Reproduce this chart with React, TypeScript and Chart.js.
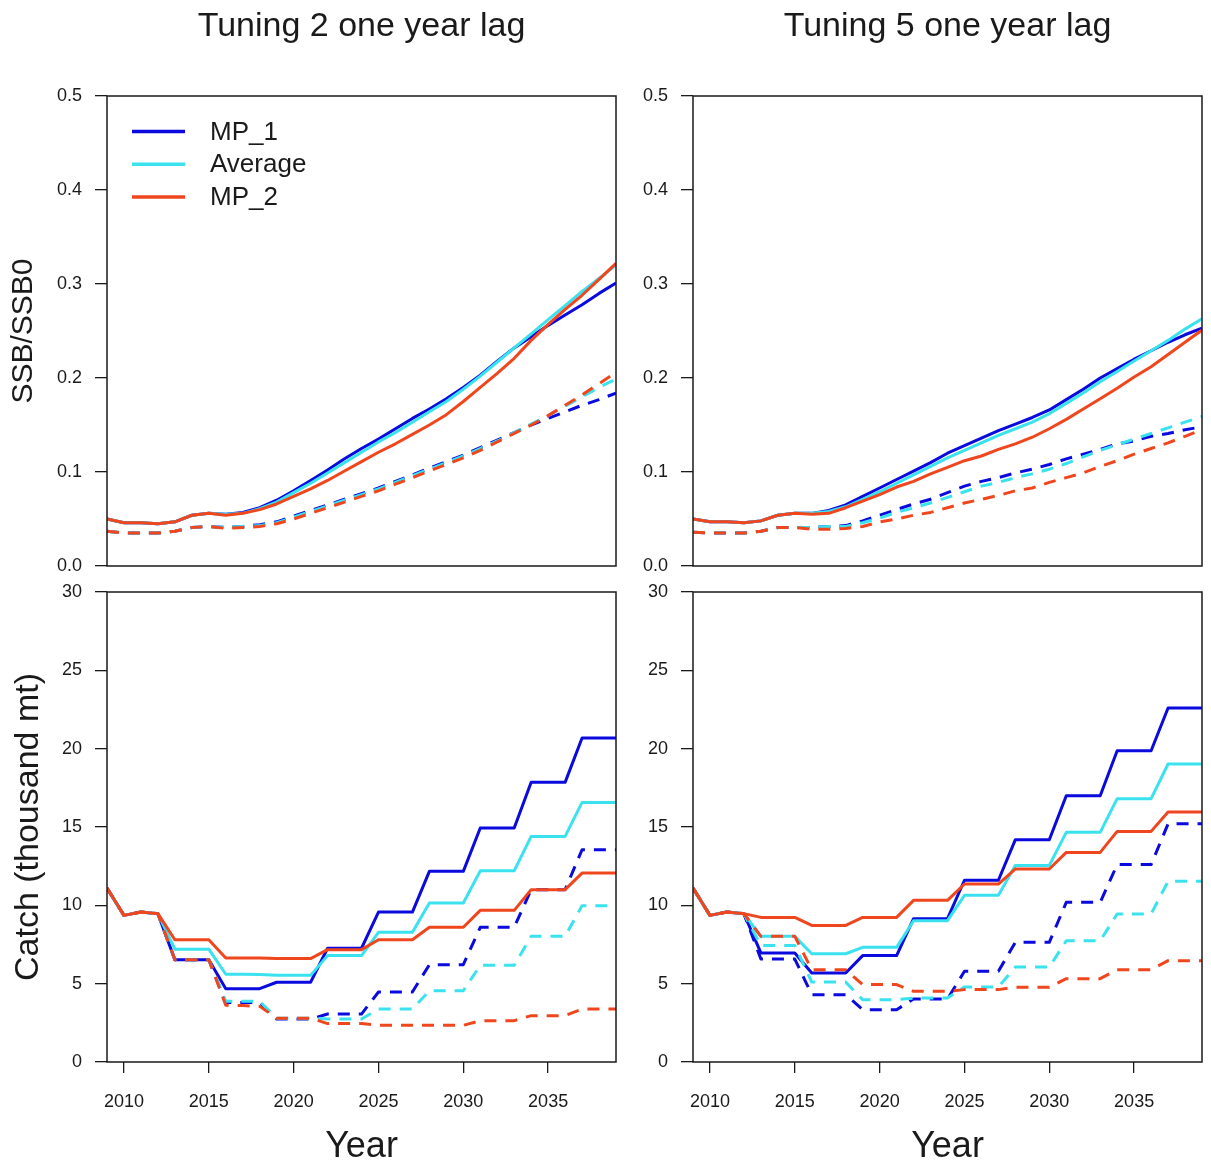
import React, { useEffect, useRef } from "react";
import { Chart, registerables } from "chart.js";

Chart.register(...registerables);

// ---------- axis / label data ----------
const years = [
  2009, 2010, 2011, 2012, 2013, 2014, 2015, 2016, 2017, 2018, 2019, 2020, 2021, 2022, 2023, 2024,
  2025, 2026, 2027, 2028, 2029, 2030, 2031, 2032, 2033, 2034, 2035, 2036, 2037, 2038, 2039,
];
const yearTicks = [2010, 2015, 2020, 2025, 2030, 2035];
const ssbTicks = [0, 0.1, 0.2, 0.3, 0.4, 0.5];
const catchTicks = [0, 5, 10, 15, 20, 25, 30];
const seriesNames = ["MP_1", "Average", "MP_2"];
const seriesColors = ["#0a0ade", "#3ae2f0", "#f0461e"];
const panelTitles = ["Tuning 2 one year lag", "Tuning 5 one year lag"];
const ssbTitle = "SSB/SSB0";
const catchTitle = "Catch (thousand mt)";
const xTitle = "Year";

// ---------- Tuning 2: SSB/SSB0 (solid = median, dashed = lower) ----------
const t2SsbMp1 = [0.050, 0.046, 0.046, 0.045, 0.047, 0.054, 0.056, 0.055, 0.057, 0.062, 0.070, 0.080, 0.091, 0.102, 0.114, 0.125, 0.135, 0.146, 0.157, 0.167, 0.178, 0.190, 0.203, 0.218, 0.232, 0.244, 0.256, 0.267, 0.278, 0.290, 0.301];
const t2SsbAvg = [0.050, 0.046, 0.046, 0.045, 0.047, 0.054, 0.056, 0.055, 0.056, 0.061, 0.068, 0.078, 0.088, 0.099, 0.110, 0.121, 0.132, 0.142, 0.153, 0.164, 0.175, 0.188, 0.202, 0.217, 0.232, 0.247, 0.262, 0.277, 0.292, 0.306, 0.320];
const t2SsbMp2 = [0.050, 0.046, 0.046, 0.045, 0.047, 0.054, 0.056, 0.054, 0.056, 0.060, 0.066, 0.074, 0.082, 0.091, 0.101, 0.111, 0.121, 0.130, 0.140, 0.150, 0.161, 0.175, 0.190, 0.205, 0.221, 0.240, 0.257, 0.273, 0.288, 0.305, 0.322];
const t2SsbMp1Low = [0.037, 0.035, 0.035, 0.035, 0.037, 0.041, 0.042, 0.041, 0.042, 0.044, 0.047, 0.053, 0.059, 0.065, 0.071, 0.077, 0.083, 0.090, 0.097, 0.104, 0.111, 0.118, 0.126, 0.134, 0.142, 0.150, 0.157, 0.164, 0.171, 0.177, 0.184];
const t2SsbAvgLow = [0.037, 0.035, 0.035, 0.035, 0.037, 0.041, 0.042, 0.041, 0.042, 0.043, 0.046, 0.052, 0.058, 0.064, 0.070, 0.076, 0.082, 0.089, 0.096, 0.103, 0.110, 0.117, 0.125, 0.133, 0.142, 0.151, 0.160, 0.170, 0.180, 0.190, 0.199];
const t2SsbMp2Low = [0.037, 0.035, 0.035, 0.035, 0.037, 0.041, 0.042, 0.040, 0.041, 0.042, 0.045, 0.050, 0.056, 0.062, 0.068, 0.074, 0.080, 0.087, 0.094, 0.101, 0.108, 0.115, 0.123, 0.132, 0.141, 0.150, 0.160, 0.171, 0.182, 0.194, 0.206];

// ---------- Tuning 5: SSB/SSB0 ----------
const t5SsbMp1 = [0.050, 0.047, 0.047, 0.046, 0.048, 0.054, 0.056, 0.056, 0.059, 0.065, 0.074, 0.083, 0.092, 0.101, 0.110, 0.120, 0.128, 0.136, 0.144, 0.151, 0.158, 0.166, 0.177, 0.188, 0.200, 0.210, 0.220, 0.229, 0.238, 0.246, 0.253];
const t5SsbAvg = [0.050, 0.047, 0.047, 0.046, 0.048, 0.054, 0.056, 0.056, 0.058, 0.063, 0.071, 0.079, 0.088, 0.097, 0.106, 0.115, 0.123, 0.131, 0.139, 0.146, 0.153, 0.162, 0.173, 0.184, 0.196, 0.207, 0.218, 0.229, 0.240, 0.252, 0.263];
const t5SsbMp2 = [0.050, 0.047, 0.047, 0.046, 0.048, 0.054, 0.056, 0.055, 0.056, 0.062, 0.069, 0.076, 0.084, 0.090, 0.098, 0.105, 0.112, 0.117, 0.124, 0.130, 0.137, 0.146, 0.156, 0.167, 0.178, 0.189, 0.201, 0.212, 0.225, 0.238, 0.251];
const t5SsbMp1Low = [0.036, 0.035, 0.035, 0.035, 0.037, 0.041, 0.041, 0.041, 0.042, 0.043, 0.048, 0.054, 0.060, 0.066, 0.071, 0.078, 0.085, 0.090, 0.094, 0.099, 0.103, 0.108, 0.114, 0.119, 0.124, 0.130, 0.133, 0.138, 0.141, 0.145, 0.148];
const t5SsbAvgLow = [0.036, 0.035, 0.035, 0.035, 0.037, 0.041, 0.041, 0.041, 0.042, 0.042, 0.046, 0.051, 0.057, 0.062, 0.067, 0.073, 0.079, 0.085, 0.089, 0.094, 0.098, 0.103, 0.109, 0.116, 0.123, 0.129, 0.135, 0.141, 0.147, 0.153, 0.159];
const t5SsbMp2Low = [0.036, 0.035, 0.035, 0.035, 0.037, 0.041, 0.041, 0.039, 0.039, 0.040, 0.042, 0.047, 0.050, 0.054, 0.057, 0.062, 0.067, 0.071, 0.075, 0.080, 0.083, 0.089, 0.094, 0.099, 0.106, 0.112, 0.119, 0.125, 0.131, 0.138, 0.145];

// ---------- Tuning 2: Catch (thousand mt) ----------
const t2CatchMp1 = [11.1, 9.36, 9.57, 9.47, 6.53, 6.53, 6.53, 4.68, 4.68, 4.68, 5.09, 5.09, 5.09, 7.26, 7.26, 7.26, 9.57, 9.57, 9.57, 12.17, 12.17, 12.17, 14.94, 14.94, 14.94, 17.85, 17.85, 17.85, 20.68, 20.68, 20.68];
const t2CatchAvg = [11.1, 9.36, 9.57, 9.47, 7.2, 7.2, 7.2, 5.6, 5.6, 5.58, 5.53, 5.53, 5.53, 6.79, 6.79, 6.79, 8.28, 8.28, 8.28, 10.15, 10.15, 10.15, 12.2, 12.2, 12.2, 14.4, 14.4, 14.4, 16.57, 16.57, 16.57];
const t2CatchMp2 = [11.1, 9.36, 9.57, 9.47, 7.8, 7.8, 7.8, 6.64, 6.64, 6.64, 6.6, 6.6, 6.6, 7.17, 7.17, 7.17, 7.8, 7.8, 7.8, 8.6, 8.6, 8.6, 9.68, 9.68, 9.68, 11.0, 11.0, 11.0, 12.06, 12.06, 12.06];
const t2CatchMp1Low = [11.1, 9.36, 9.57, 9.47, 6.53, 6.53, 6.53, 3.8, 3.8, 3.8, 2.74, 2.74, 2.74, 3.06, 3.06, 3.06, 4.47, 4.47, 4.47, 6.21, 6.21, 6.21, 8.6, 8.6, 8.6, 11.0, 11.0, 11.0, 13.55, 13.55, 13.55];
const t2CatchAvgLow = [11.1, 9.36, 9.57, 9.47, 6.53, 6.53, 6.53, 3.87, 3.87, 3.87, 2.8, 2.8, 2.8, 2.74, 2.74, 2.74, 3.38, 3.38, 3.38, 4.55, 4.55, 4.55, 6.17, 6.17, 6.17, 8.02, 8.02, 8.02, 9.98, 9.98, 9.98];
const t2CatchMp2Low = [11.1, 9.36, 9.57, 9.47, 6.53, 6.53, 6.53, 3.62, 3.6, 3.55, 2.8, 2.8, 2.8, 2.45, 2.45, 2.45, 2.34, 2.34, 2.34, 2.34, 2.34, 2.34, 2.64, 2.64, 2.64, 2.96, 2.96, 2.96, 3.38, 3.38, 3.38];

// ---------- Tuning 5: Catch (thousand mt) ----------
const t5CatchMp1 = [11.1, 9.36, 9.57, 9.47, 6.96, 6.96, 6.96, 5.68, 5.68, 5.68, 6.79, 6.79, 6.79, 9.15, 9.15, 9.15, 11.6, 11.6, 11.6, 14.19, 14.19, 14.19, 17.0, 17.0, 17.0, 19.87, 19.87, 19.87, 22.6, 22.6, 22.6];
const t5CatchAvg = [11.1, 9.36, 9.57, 9.47, 8.02, 8.02, 8.02, 6.91, 6.91, 6.91, 7.32, 7.32, 7.32, 9.02, 9.02, 9.02, 10.64, 10.64, 10.64, 12.55, 12.55, 12.55, 14.66, 14.66, 14.66, 16.81, 16.81, 16.81, 19.02, 19.02, 19.02];
const t5CatchMp2 = [11.1, 9.36, 9.57, 9.47, 9.23, 9.23, 9.23, 8.72, 8.72, 8.72, 9.23, 9.23, 9.23, 10.32, 10.32, 10.32, 11.36, 11.36, 11.36, 12.32, 12.32, 12.32, 13.38, 13.38, 13.38, 14.72, 14.72, 14.72, 15.96, 15.96, 15.96];
const t5CatchMp1Low = [11.1, 9.36, 9.57, 9.47, 6.57, 6.57, 6.57, 4.3, 4.3, 4.3, 3.34, 3.34, 3.34, 4.02, 4.02, 4.02, 5.79, 5.79, 5.79, 7.64, 7.64, 7.64, 10.19, 10.19, 10.19, 12.6, 12.6, 12.6, 15.2, 15.2, 15.2];
const t5CatchAvgLow = [11.1, 9.36, 9.57, 9.47, 7.43, 7.43, 7.43, 5.1, 5.1, 5.1, 3.98, 3.98, 3.98, 4.08, 4.08, 4.08, 4.79, 4.79, 4.79, 6.06, 6.06, 6.06, 7.74, 7.74, 7.74, 9.45, 9.45, 9.45, 11.53, 11.53, 11.53];
const t5CatchMp2Low = [11.1, 9.36, 9.57, 9.47, 8.02, 8.02, 8.02, 5.89, 5.89, 5.89, 4.94, 4.94, 4.94, 4.51, 4.51, 4.51, 4.62, 4.62, 4.62, 4.77, 4.77, 4.77, 5.32, 5.32, 5.32, 5.89, 5.89, 5.89, 6.47, 6.47, 6.47];

// ---------- styling ----------
const FONT = "'Liberation Sans', Arial, Helvetica, sans-serif";
const INK = "#1a1a1a";

const framePlugin = {
  id: "panelFrame",
  afterDatasetsDraw(chart: any) {
    const { ctx, chartArea: a } = chart;
    ctx.save();
    ctx.strokeStyle = INK;
    ctx.lineWidth = 1.5;
    ctx.strokeRect(a.left, a.top, a.right - a.left, a.bottom - a.top);
    ctx.restore();
  },
};

const insetLegendPlugin = {
  id: "insetLegend",
  afterDatasetsDraw(chart: any, _args: any, opts: any) {
    if (!opts || !opts.show) return;
    const { ctx, chartArea: a } = chart;
    ctx.save();
    ctx.font = `26px ${FONT}`;
    ctx.textBaseline = "middle";
    ctx.textAlign = "left";
    seriesNames.forEach((name, i) => {
      const y = a.top + 35.5 + i * 32.8;
      ctx.strokeStyle = seriesColors[i];
      ctx.lineWidth = 3.5;
      ctx.beginPath();
      ctx.moveTo(a.left + 25, y);
      ctx.lineTo(a.left + 78, y);
      ctx.stroke();
      ctx.fillStyle = INK;
      ctx.fillText(name, a.left + 103, y + 1);
    });
    ctx.restore();
  },
};

type PanelSpec = {
  key: string;
  left: number;
  top: number;
  width: number;
  height: number;
  pad: { left: number; right: number; top: number; bottom: number };
  axisWidth: number;
  solid: number[][];
  dashed: number[][];
  yTicks: number[];
  yDecimals: number;
  yTitle?: string;
  yTitleSize?: number;
  yTitlePad?: number;
  title?: string;
  showX: boolean;
  legend: boolean;
};

const toPoints = (vals: number[]) => years.map((yr, k) => ({ x: yr, y: vals[k] }));

function buildConfig(spec: PanelSpec): any {
  const layers: any[] = [];
  for (let i = 0; i < 3; i++) {
    layers.push({
      label: seriesNames[i],
      data: toPoints(spec.solid[i]),
      borderColor: seriesColors[i],
      backgroundColor: seriesColors[i],
      borderWidth: 3,
      pointRadius: 0,
      tension: 0,
      borderJoinStyle: "round",
    });
    layers.push({
      label: seriesNames[i] + " (lower)",
      data: toPoints(spec.dashed[i]),
      borderColor: seriesColors[i],
      backgroundColor: seriesColors[i],
      borderWidth: 3,
      borderDash: [12, 9],
      pointRadius: 0,
      tension: 0,
      borderJoinStyle: "round",
    });
  }
  // Chart.js draws the first dataset on top: reverse so MP_2 ends up topmost
  const datasets = layers.reverse();
  const tickFont = { family: FONT, size: 18 };
  const grid = (len: number) => ({
    drawOnChartArea: false,
    drawTicks: true,
    tickLength: len,
    color: INK,
    lineWidth: 1.3,
  });

  return {
    type: "line",
    data: { datasets },
    options: {
      animation: false,
      responsive: false,
      devicePixelRatio: 1,
      events: [],
      layout: { padding: spec.pad },
      plugins: {
        legend: { display: false },
        tooltip: { enabled: false },
        title: spec.title
          ? {
              display: true,
              text: spec.title,
              fullSize: false,
              color: INK,
              font: { family: FONT, size: 34, weight: "normal", lineHeight: 1.2 },
              padding: { top: 6.6, bottom: 48.6 },
            }
          : { display: false },
        insetLegend: { show: spec.legend },
      },
      scales: {
        x: {
          type: "linear",
          min: years[0],
          max: years[years.length - 1],
          display: spec.showX,
          afterBuildTicks: (s: any) => {
            s.ticks = yearTicks.map((v) => ({ value: v }));
          },
          afterFit: (s: any) => {
            s.height = spec.showX ? 105 : 0;
          },
          ticks: {
            callback: (v: any) => String(v),
            font: tickFont,
            color: INK,
            padding: 18,
            maxRotation: 0,
            autoSkip: false,
          },
          grid: grid(11),
          border: { display: false },
          title: {
            display: true,
            text: xTitle,
            color: INK,
            font: { family: FONT, size: 36, lineHeight: 1.1 },
            padding: { top: 0, bottom: 0 },
          },
        },
        y: {
          type: "linear",
          min: spec.yTicks[0],
          max: spec.yTicks[spec.yTicks.length - 1],
          afterBuildTicks: (s: any) => {
            s.ticks = spec.yTicks.map((v) => ({ value: v }));
          },
          afterFit: (s: any) => {
            s.width = spec.axisWidth;
          },
          ticks: {
            callback: (v: any) => Number(v).toFixed(spec.yDecimals),
            font: tickFont,
            color: INK,
            padding: 13,
            autoSkip: false,
          },
          grid: grid(12),
          border: { display: false },
          title: spec.yTitle
            ? {
                display: true,
                text: spec.yTitle,
                color: INK,
                font: { family: FONT, size: spec.yTitleSize, lineHeight: 1.2 },
                padding: { top: spec.yTitlePad, bottom: 0 },
              }
            : { display: false },
        },
      },
    },
    plugins: [framePlugin, insetLegendPlugin],
  };
}

const panels: PanelSpec[] = [
  {
    key: "t2-ssb",
    left: 0,
    top: 0,
    width: 630,
    height: 590,
    pad: { left: 0, right: 14, top: 0, bottom: 24 },
    axisWidth: 107,
    solid: [t2SsbMp1, t2SsbAvg, t2SsbMp2],
    dashed: [t2SsbMp1Low, t2SsbAvgLow, t2SsbMp2Low],
    yTicks: ssbTicks,
    yDecimals: 1,
    yTitle: ssbTitle,
    yTitleSize: 30,
    yTitlePad: 6,
    title: panelTitles[0],
    showX: false,
    legend: true,
  },
  {
    key: "t5-ssb",
    left: 630,
    top: 0,
    width: 581,
    height: 590,
    pad: { left: 0, right: 9, top: 0, bottom: 24 },
    axisWidth: 63,
    solid: [t5SsbMp1, t5SsbAvg, t5SsbMp2],
    dashed: [t5SsbMp1Low, t5SsbAvgLow, t5SsbMp2Low],
    yTicks: ssbTicks,
    yDecimals: 1,
    title: panelTitles[1],
    showX: false,
    legend: false,
  },
  {
    key: "t2-catch",
    left: 0,
    top: 560,
    width: 630,
    height: 607,
    pad: { left: 0, right: 14, top: 32, bottom: 0 },
    axisWidth: 107,
    solid: [t2CatchMp1, t2CatchAvg, t2CatchMp2],
    dashed: [t2CatchMp1Low, t2CatchAvgLow, t2CatchMp2Low],
    yTicks: catchTicks,
    yDecimals: 0,
    yTitle: catchTitle,
    yTitleSize: 34,
    yTitlePad: 8,
    showX: true,
    legend: false,
  },
  {
    key: "t5-catch",
    left: 630,
    top: 560,
    width: 581,
    height: 607,
    pad: { left: 0, right: 9, top: 32, bottom: 0 },
    axisWidth: 63,
    solid: [t5CatchMp1, t5CatchAvg, t5CatchMp2],
    dashed: [t5CatchMp1Low, t5CatchAvgLow, t5CatchMp2Low],
    yTicks: catchTicks,
    yDecimals: 0,
    showX: true,
    legend: false,
  },
];

function Panel({ spec }: { spec: PanelSpec }) {
  const ref = useRef<HTMLCanvasElement | null>(null);
  useEffect(() => {
    if (!ref.current) return;
    const chart = new Chart(ref.current, buildConfig(spec));
    return () => chart.destroy();
  }, [spec]);
  return (
    <canvas
      ref={ref}
      width={spec.width}
      height={spec.height}
      style={{
        position: "absolute",
        left: spec.left,
        top: spec.top,
        width: spec.width,
        height: spec.height,
      }}
    />
  );
}

export default function App() {
  return (
    <div
      style={{
        position: "absolute",
        left: 0,
        top: 0,
        width: 1211,
        height: 1167,
        background: "#ffffff",
        overflow: "hidden",
      }}
    >
      {panels.map((p) => (
        <Panel key={p.key} spec={p} />
      ))}
    </div>
  );
}
